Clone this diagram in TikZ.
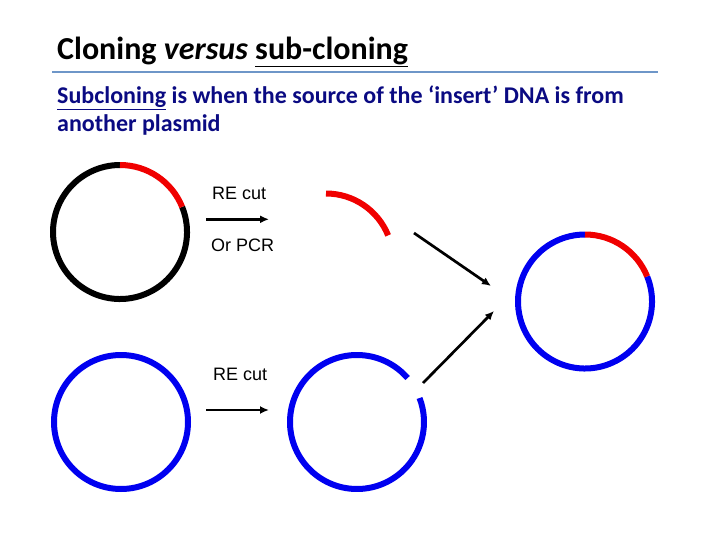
\documentclass[tikz,border=0pt]{standalone}
\usepackage{fontspec}
\setmainfont{Carlito}
\newfontfamily\arialfont{Liberation Sans}
\usetikzlibrary{arrows.meta,calc}
\definecolor{navytext}{RGB}{10,10,130}
\definecolor{rulecol}{RGB}{110,150,200}
\definecolor{dnablue}{RGB}{0,0,240}
\definecolor{dnared}{RGB}{240,0,0}
\tikzset{
  dna/.style={line width=6pt},
  reaction/.style={line width=2.7pt,-{Latex[length=9pt,width=8pt]}},
  lbl/.style={font=\arialfont\fontsize{18}{20}\selectfont,inner sep=0pt,anchor=base west},
  subtext/.style={inner sep=0pt,anchor=base west,text=navytext,font=\bfseries\fontsize{24}{28}\selectfont},
}
\begin{document}
\begin{tikzpicture}[x=1pt,y=1pt]
\useasboundingbox (0,-540) rectangle (720,0);
% title
\node[inner sep=0pt,anchor=base west,font=\bfseries\fontsize{32}{36}\selectfont] (title) at (57,-59.5)
  {Cloning \textit{versus} \underline{sub-cloning}};
\draw[rulecol,line width=2pt] (52,-71.7) -- (658,-71.7);
\node[subtext] (sub1) at (57,-103.5)
  {\underline{Subcloning} is when the source of the ‘insert’ DNA is from};
\node[subtext] (sub2) at (57,-131.5)
  {another plasmid};
% top-left plasmid
\coordinate (c1) at (120,-232);
\draw[dna,black] ($(c1)+(22:67)$) arc[start angle=22,end angle=-270,radius=67];
\draw[dna,dnared] ($(c1)+(90:67)$) arc[start angle=90,end angle=22,radius=67];
% red insert fragment
\coordinate (c2) at (326,-260.5);
\draw[dna,dnared] ($(c2)+(90:67)$) arc[start angle=90,end angle=22,radius=67];
% bottom-left plasmid
\coordinate (c3) at (121,-422);
\draw[dna,dnablue] (c3) circle[radius=67];
% bottom cut plasmid
\coordinate (c4) at (357,-422);
\draw[dna,dnablue] ($(c4)+(41:67)$) arc[start angle=41,end angle=381,radius=67];
% product plasmid
\coordinate (c5) at (585,-301.5);
\draw[dna,dnablue] ($(c5)+(22:67)$) arc[start angle=22,end angle=-270,radius=67];
\draw[dna,dnared] ($(c5)+(90:67)$) arc[start angle=90,end angle=22,radius=67];
% arrows
\coordinate (a1s) at (206,-219.3); \coordinate (a1e) at (269,-219.3);
\draw[reaction] (a1s) -- (a1e);
\coordinate (a2s) at (206,-410); \coordinate (a2e) at (269,-410);
\draw[reaction] (a2s) -- (a2e);
\coordinate (a3s) at (414,-233); \coordinate (a3e) at (491,-286);
\draw[reaction] (a3s) -- (a3e);
\coordinate (a4s) at (423,-383); \coordinate (a4e) at (494,-311);
\draw[reaction] (a4s) -- (a4e);
% labels
\node[lbl] (re1) at (212,-200) {RE cut};
\node[lbl] (pcr) at (211,-251.5) {Or PCR};
\node[lbl] (re2) at (213,-380.7) {RE cut};
\end{tikzpicture}
\end{document}
